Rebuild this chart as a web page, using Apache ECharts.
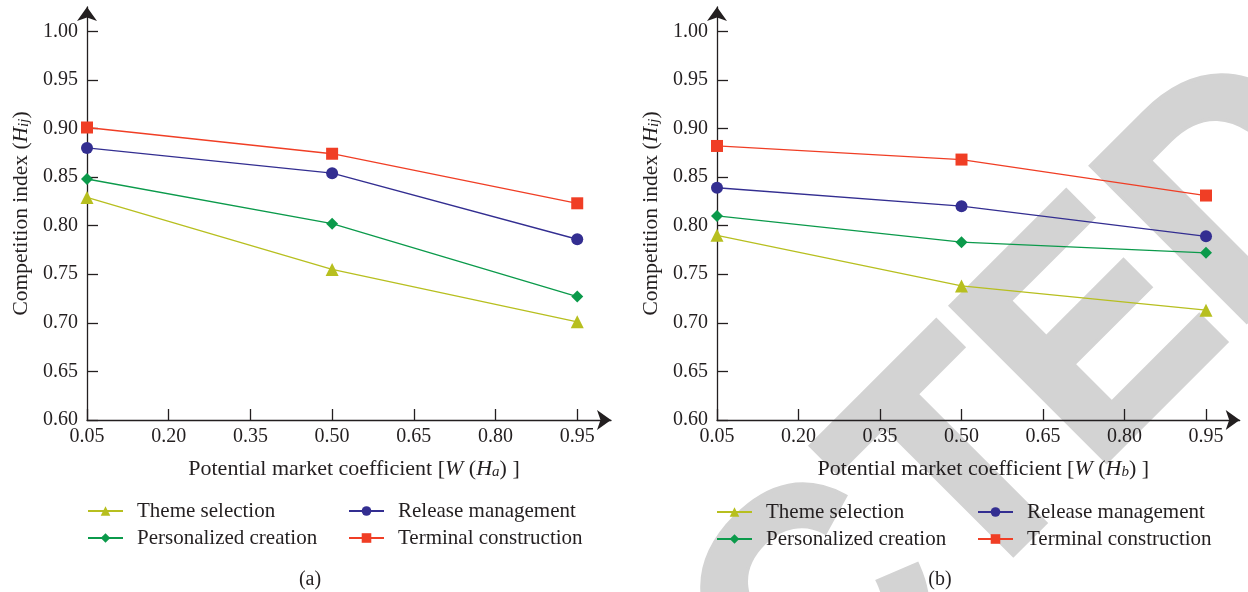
<!DOCTYPE html>
<html>
<head>
<meta charset="utf-8">
<script src="https://cdn.jsdelivr.net/npm/echarts@6/dist/echarts.min.js"></script>
<style>html,body{margin:0;padding:0;background:#fff;}#c{width:1248px;height:592px;}</style>
</head>
<body>
<div id="c"></div>
<script>
// ---- data ----
const xTicks = [0.05, 0.20, 0.35, 0.50, 0.65, 0.80, 0.95];
const yTicks = [0.60, 0.65, 0.70, 0.75, 0.80, 0.85, 0.90, 0.95, 1.00];
const xValues = [0.05, 0.50, 0.95];
const seriesNames = ['Theme selection', 'Personalized creation', 'Release management', 'Terminal construction'];
// panel (a)
const themeA = [0.829, 0.755, 0.701];
const personalA = [0.848, 0.802, 0.727];
const releaseA = [0.880, 0.854, 0.786];
const terminalA = [0.901, 0.874, 0.823];
// panel (b)
const themeB = [0.790, 0.738, 0.713];
const personalB = [0.810, 0.783, 0.772];
const releaseB = [0.839, 0.820, 0.789];
const terminalB = [0.882, 0.868, 0.831];
const captions = ['(a)', '(b)'];
const subs = ['a', 'b'];

const colors = ['#b7bf1f', '#0b9a4b', '#332e91', '#f03e25'];
const symbols = ['triangle', 'diamond', 'circle', 'rect'];
const symSizes = [13, 12, 12, 12];
const FONT = '"Liberation Serif", "Times New Roman", serif';
const INK = '#231f20';

const chart = echarts.init(document.getElementById('c'), null, {renderer: 'canvas'});

const grids = [
  {left: 87, top: 7, width: 524, height: 413},
  {left: 717, top: 7, width: 522.7, height: 413}
];

function xAxisFor(i) {
  return {
    type: 'value', gridIndex: i, min: 0.05, max: 1.012,
    axisLine: {show: true, lineStyle: {color: INK, width: 1.3}, symbol: ['none', 'arrow'], symbolSize: [15, 14]},
    axisTick: {show: true, inside: true, length: 11, lineStyle: {color: INK, width: 1.3}, customValues: xTicks},
    axisLabel: {customValues: xTicks, formatter: v => v.toFixed(2), color: INK, fontFamily: FONT, fontSize: 20, margin: 7},
    splitLine: {show: false},
    name: 'Potential market coefficient [{i|W} ({i|H}{s|' + subs[i] + '}) ]',
    nameLocation: 'middle', nameGap: 38,
    nameTextStyle: {
      color: INK, fontFamily: FONT, fontSize: 22, padding: [0, 0, 0, 10],
      rich: {
        i: {fontStyle: 'italic', fontFamily: FONT, fontSize: 22, color: INK},
        s: {fontStyle: 'italic', fontFamily: FONT, fontSize: 15, color: INK, verticalAlign: 'bottom', lineHeight: 15}
      }
    }
  };
}
function yAxisFor(i) {
  return {
    type: 'value', gridIndex: i, min: 0.60, max: 1.025,
    axisLine: {show: true, lineStyle: {color: INK, width: 1.3}, symbol: ['none', 'arrow'], symbolSize: [15, 14]},
    axisTick: {show: true, inside: true, length: 11, lineStyle: {color: INK, width: 1.3}, customValues: yTicks},
    axisLabel: {customValues: yTicks, formatter: v => v.toFixed(2), color: INK, fontFamily: FONT, fontSize: 20, margin: 9},
    splitLine: {show: false},
    name: 'Competition index ({i|H}{s|ij})',
    nameLocation: 'middle', nameGap: 55, nameRotate: 90,
    nameTextStyle: {
      color: INK, fontFamily: FONT, fontSize: 21.5,
      rich: {
        i: {fontStyle: 'italic', fontFamily: FONT, fontSize: 21.5, color: INK},
        s: {fontStyle: 'italic', fontFamily: FONT, fontSize: 15, color: INK, verticalAlign: 'bottom', lineHeight: 15}
      }
    }
  };
}

const panelData = [
  [themeA, personalA, releaseA, terminalA],
  [themeB, personalB, releaseB, terminalB]
];
const series = [];
panelData.forEach((arrs, p) => {
  arrs.forEach((vals, k) => {
    series.push({
      type: 'line', name: seriesNames[k], xAxisIndex: p, yAxisIndex: p,
      data: xValues.map((x, j) => [x, vals[j]]),
      symbol: symbols[k], symbolSize: symSizes[k], showSymbol: true,
      lineStyle: {color: colors[k], width: 1.3},
      itemStyle: {color: colors[k]},
      emphasis: {disabled: true}, animation: false, z: 3
    });
  });
});

function legendAt(left, top, names) {
  return {
    orient: 'vertical', left: left, top: top, data: names,
    itemWidth: 35, itemHeight: 12, itemGap: 5,
    selectedMode: false,
    textStyle: {color: INK, fontFamily: FONT, fontSize: 21, lineHeight: 22, padding: [0, 0, 0, 9]}
  };
}

const option = {
  backgroundColor: '#ffffff',
  animation: false,
  grid: grids,
  xAxis: [xAxisFor(0), xAxisFor(1)],
  yAxis: [yAxisFor(0), yAxisFor(1)],
  series: series,
  legend: [
    legendAt(82, 495, [seriesNames[0], seriesNames[1]]),
    legendAt(343, 495, [seriesNames[2], seriesNames[3]]),
    legendAt(711, 496, [seriesNames[0], seriesNames[1]]),
    legendAt(972, 496, [seriesNames[2], seriesNames[3]])
  ],
  title: [
    {text: captions[0], left: 305, top: 565, textAlign: 'center', textStyle: {color: INK, fontFamily: FONT, fontSize: 20, fontWeight: 'normal'}},
    {text: captions[1], left: 935, top: 565, textAlign: 'center', textStyle: {color: INK, fontFamily: FONT, fontSize: 20, fontWeight: 'normal'}}
  ],
  graphic: [{
    type: 'text', x: 675, y: 768, rotation: Math.PI / 4, scaleX: 0.94, scaleY: 1, z: -10, silent: true,
    style: {
      text: 'RETRACTED', fill: '#d3d3d3', stroke: '#d3d3d3', lineWidth: 7,
      font: 'bold 316px "Liberation Sans", Arial, sans-serif',
      align: 'center', verticalAlign: 'middle',
      textAlign: 'center', textVerticalAlign: 'middle'
    }
  }]
};
chart.setOption(option);
</script>
</body>
</html>
